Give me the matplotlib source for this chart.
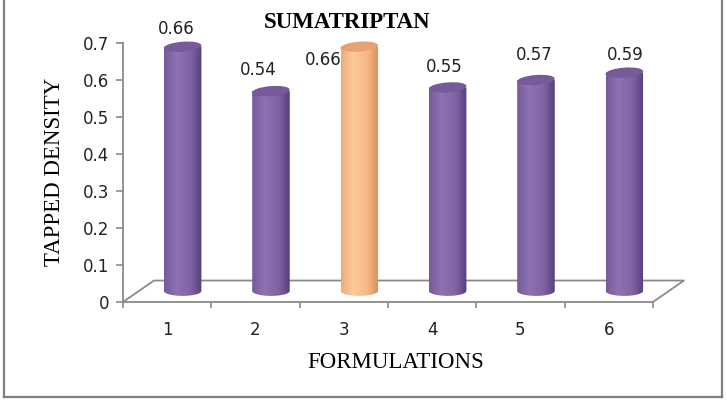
import numpy as np
import matplotlib.pyplot as plt
from matplotlib.patches import Ellipse, Polygon
from matplotlib.colors import LinearSegmentedColormap
from matplotlib.lines import Line2D

formulations = ['1', '2', '3', '4', '5', '6']
tapped_density = [0.66, 0.54, 0.66, 0.55, 0.57, 0.59]
bar_style = ['purple', 'purple', 'orange', 'purple', 'purple', 'purple']

# label nudges in pixels relative to the top of each cylinder
label_offsets = [(-6, 18), (-13, 21), (-36, -13), (-3, 20), (-2, 25), (1, 18)]

shades = {
    'purple': (['#765a98', '#8d73b3', '#7f64a3', '#573f7c'], '#765a99'),
    'orange': (['#eeac78', '#fdca9c', '#f6b886', '#d39059'], '#e6a272'),
}

grey = '#8a8a8a'
depth_x, depth_y = 0.35, 0.058   # floor depth in data units
mid_x, mid_y = 0.175, 0.03       # cylinders sit halfway back
half_w = 0.2125
ell_h = 0.027

fig = plt.figure(figsize=(7.27, 4.04), dpi=100)
ax = fig.add_axes([123 / 727, 1 - 302 / 404, 530 / 727, 259 / 404])

# floor of the 3d plot
ax.plot([0, depth_x, 6 + depth_x, 6], [0, depth_y, depth_y, 0],
        color=grey, lw=1.3, clip_on=False, zorder=1)

for i, (val, style) in enumerate(zip(tapped_density, bar_style)):
    cx = i + 0.5 + mid_x
    base = mid_y
    top = base + val
    profile, top_col = shades[style]
    cmap = LinearSegmentedColormap.from_list(style, list(zip([0, 0.32, 0.7, 1], profile)))

    t = np.linspace(np.pi, 2 * np.pi, 40)
    body = np.column_stack([cx + half_w * np.cos(t), base + ell_h / 2 * np.sin(t)])
    body = np.vstack([body, [[cx + half_w, top], [cx - half_w, top]]])
    clip = Polygon(body, closed=True, facecolor='none', edgecolor='none', transform=ax.transData)
    ax.add_patch(clip)

    im = ax.imshow(np.linspace(0, 1, 200).reshape(1, -1), cmap=cmap, aspect='auto',
                   extent=[cx - half_w, cx + half_w, base - ell_h, top],
                   interpolation='bilinear', zorder=2)
    im.set_clip_path(clip)

    ax.add_patch(Ellipse((cx, top), 2 * half_w, ell_h, angle=1.0, facecolor=top_col,
                         edgecolor='none', clip_on=False, zorder=3))

    dx, dy = label_offsets[i]
    ax.annotate(f'{val:.2f}', (cx, top), xytext=(dx, dy), textcoords='offset pixels',
                ha='center', va='center', fontsize=12, color='#222222',
                family='DejaVu Sans', zorder=5, annotation_clip=False)

ax.set_xlim(0, 6)
ax.set_ylim(0, 0.7)

for side in ['top', 'right']:
    ax.spines[side].set_visible(False)
for side in ['left', 'bottom']:
    ax.spines[side].set_color(grey)
    ax.spines[side].set_linewidth(1.3)

ax.set_yticks(np.arange(0, 0.71, 0.1))
ax.set_yticklabels(['0', '0.1', '0.2', '0.3', '0.4', '0.5', '0.6', '0.7'])
ax.tick_params(axis='y', direction='out', length=5, width=1.2, color=grey,
               pad=5, labelsize=12, labelcolor='#222222')

ax.set_xticks(range(7))
ax.set_xticklabels([])
ax.tick_params(axis='x', which='major', direction='out', length=4, width=1.2, color=grey)
ax.set_xticks(np.arange(6) + 0.5, minor=True)
ax.set_xticklabels(formulations, minor=True)
ax.tick_params(axis='x', which='minor', length=0, pad=14, labelsize=12, labelcolor='#222222')

fig.text(347 / 727, 1 - 22 / 404, 'SUMATRIPTAN', ha='center', va='center',
         family='Liberation Serif', fontweight='bold', fontsize=16.5)
fig.text(396 / 727, 1 - 362 / 404, 'FORMULATIONS', ha='center', va='center',
         family='Liberation Serif', fontsize=16.5)
fig.text(55 / 727, 1 - 172 / 404, 'TAPPED DENSITY', ha='center', va='center',
         rotation=90, family='Liberation Serif', fontsize=16.5)

# outer chart border
for xs, ys in [([4, 4], [0, 397]), ([722, 722], [0, 397]), ([4, 722], [397, 397])]:
    fig.add_artist(Line2D([x / 727 for x in xs], [1 - y / 404 for y in ys],
                          color='#7f7f7f', lw=1.6))

fig.savefig('out.png', dpi=100)
